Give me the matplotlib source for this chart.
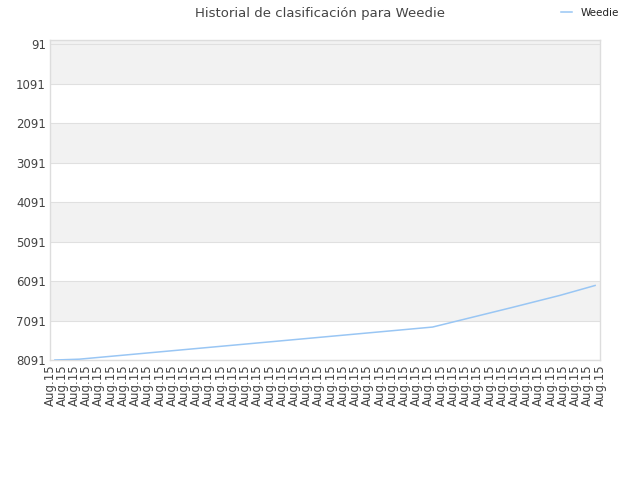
import matplotlib
matplotlib.use("Agg")
import matplotlib.pyplot as plt
import numpy as np

title = "Historial de clasificación para Weedie"
series_name = "Weedie"

# day offsets along the axis and the rank on each
days = [0.4, 2.4, 31.3, 37.8, 41.7, 44.6]
ranks = [8091, 8070, 7256, 6760, 6455, 6202]

n_labels = 46
tick_label = "Aug.15"
y_ticks = [91, 1091, 2091, 3091, 4091, 5091, 6091, 7091, 8091]

fig = plt.figure(figsize=(6.4, 4.8), dpi=100)
ax = fig.add_axes([50 / 640, 120 / 480, 550 / 640, 320 / 480])

y_top, y_bottom = -20, 8091
ax.set_ylim(y_bottom, y_top)
ax.set_xlim(0, n_labels - 1)

# alternating bands
edges = [y_top] + y_ticks[1:]
for i in range(len(edges) - 1):
    if i % 2 == 0:
        ax.axhspan(edges[i], edges[i + 1], color="#f2f2f2", zorder=0, lw=0)
for t in y_ticks:
    ax.axhline(t, color="#e0e0e0", lw=0.8, zorder=1)

ax.plot(days, ranks, color="#99c6f4", lw=1.1, zorder=3, label=series_name)

ax.set_yticks(y_ticks)
ax.set_yticklabels([str(t) for t in y_ticks], fontsize=8.5, color="#444444")
ax.set_xticks(np.arange(n_labels))
ax.set_xticklabels([tick_label] * n_labels, rotation=90, fontsize=8.5, color="#444444")
ax.tick_params(length=0, pad=3)

for s in ax.spines.values():
    s.set_color("#dddddd")
    s.set_linewidth(1)

fig.text(0.5, 1 - 13 / 480, title, ha="center", va="center", fontsize=9.5, color="#444444")
ax.legend(loc="center", bbox_to_anchor=(590 / 640, 1 - 13 / 480), bbox_transform=fig.transFigure,
          frameon=False, fontsize=7.5, handlelength=1.0, handletextpad=0.8, labelcolor="#222222")

fig.savefig("out.png", dpi=100)
